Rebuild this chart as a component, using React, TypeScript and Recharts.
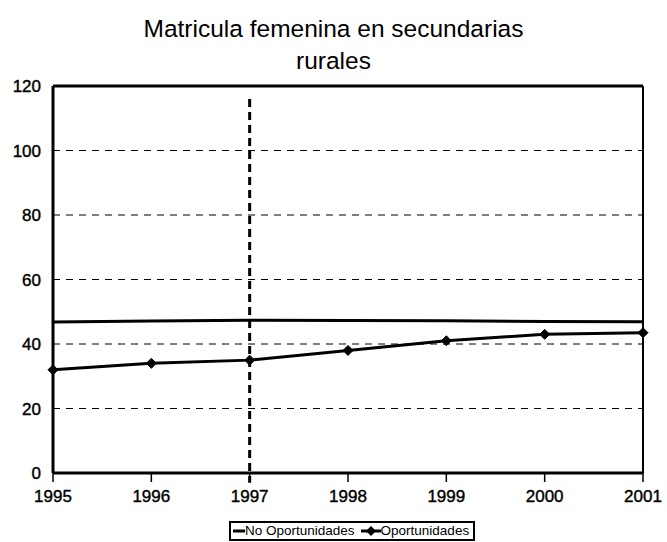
import { LineChart, Line, XAxis, YAxis, CartesianGrid, ReferenceLine } from "recharts"

const years = ["1995", "1996", "1997", "1998", "1999", "2000", "2001"]
const noOportunidades = [46.8, 47.1, 47.4, 47.3, 47.2, 47, 46.9]
const oportunidades = [32, 34, 35, 38, 41, 43, 43.5]
const yTicks = [0, 20, 40, 60, 80, 100, 120]

const data = years.map((y, i) => ({
  year: y,
  no: noOportunidades[i],
  op: oportunidades[i],
}))

const font = "'Liberation Sans', Arial, sans-serif"

const Diamond = (props: any) => {
  const { cx, cy, index } = props
  if (cx == null || cy == null) return null
  const r = 5
  return (
    <path
      key={"d" + index}
      d={`M${cx},${cy - r}L${cx + r},${cy}L${cx},${cy + r}L${cx - r},${cy}Z`}
      fill="#000"
      stroke="#000"
    />
  )
}

const LegendBox = () => (
  <div
    style={{
      position: "absolute",
      left: 229,
      top: 521,
      border: "2px solid #000",
      fontFamily: font,
      fontSize: 13.5,
      height: 16,
      lineHeight: "16px",
      padding: "0 4px 0 2px",
      display: "flex",
      alignItems: "center",
      whiteSpace: "nowrap",
      background: "#fff",
    }}
  >
    <svg width={12} height={10}>
      <line x1={0} y1={5} x2={12} y2={5} stroke="#000" strokeWidth={3} />
    </svg>
    <span>No Oportunidades</span>
    <svg width={20} height={12} style={{ marginLeft: 6 }}>
      <line x1={0} y1={6} x2={20} y2={6} stroke="#000" strokeWidth={3} />
      <path d="M10,1L15,6L10,11L5,6Z" fill="#000" />
    </svg>
    <span>Oportunidades</span>
  </div>
)

const tickStyle = { fill: "#000", stroke: "#000", strokeWidth: 0.4, fontSize: 17, fontFamily: font }

const App = () => {
  return (
    <div style={{ position: "absolute", left: 0, top: 0, width: 667, height: 542, background: "#fff" }}>
      <div
        style={{
          position: "absolute",
          left: 0,
          top: 13,
          width: 667,
          textAlign: "center",
          fontFamily: font,
          fontSize: 24.5,
          lineHeight: "32px",
          color: "#000",
        }}
      >
        Matricula femenina en secundarias
        <br />
        rurales
      </div>
      <LineChart
        width={667}
        height={542}
        data={data}
        margin={{ top: 86, right: 24, left: 8, bottom: 39 }}
      >
        <CartesianGrid vertical={false} stroke="#000" strokeDasharray="7 6" />
        <XAxis
          dataKey="year"
          height={30}
          axisLine={{ stroke: "#000", strokeWidth: 3 }}
          tickLine={{ stroke: "#000", strokeWidth: 1.5 }}
          tickSize={9}
          tickMargin={8}
          tick={tickStyle}
          interval={0}
        />
        <YAxis
          width={45}
          domain={[0, 120]}
          ticks={yTicks}
          axisLine={{ stroke: "#000", strokeWidth: 3 }}
          tickLine={false}
          tickMargin={6}
          tick={tickStyle}
        />
        <ReferenceLine y={120} stroke="#000" strokeWidth={3} />
        <ReferenceLine x="2001" stroke="#000" strokeWidth={2} />
        <ReferenceLine
          segment={[
            { x: "1997", y: 116 },
            { x: "1997", y: -3 },
          ]}
          ifOverflow="visible"
          stroke="#000"
          strokeWidth={3}
          strokeDasharray="8 5"
        />
        <Line
          dataKey="no"
          stroke="#000"
          strokeWidth={3}
          dot={false}
          isAnimationActive={false}
          type="linear"
        />
        <Line
          dataKey="op"
          stroke="#000"
          strokeWidth={3}
          dot={<Diamond />}
          isAnimationActive={false}
          type="linear"
        />
      </LineChart>
      <LegendBox />
    </div>
  )
}

export default App
